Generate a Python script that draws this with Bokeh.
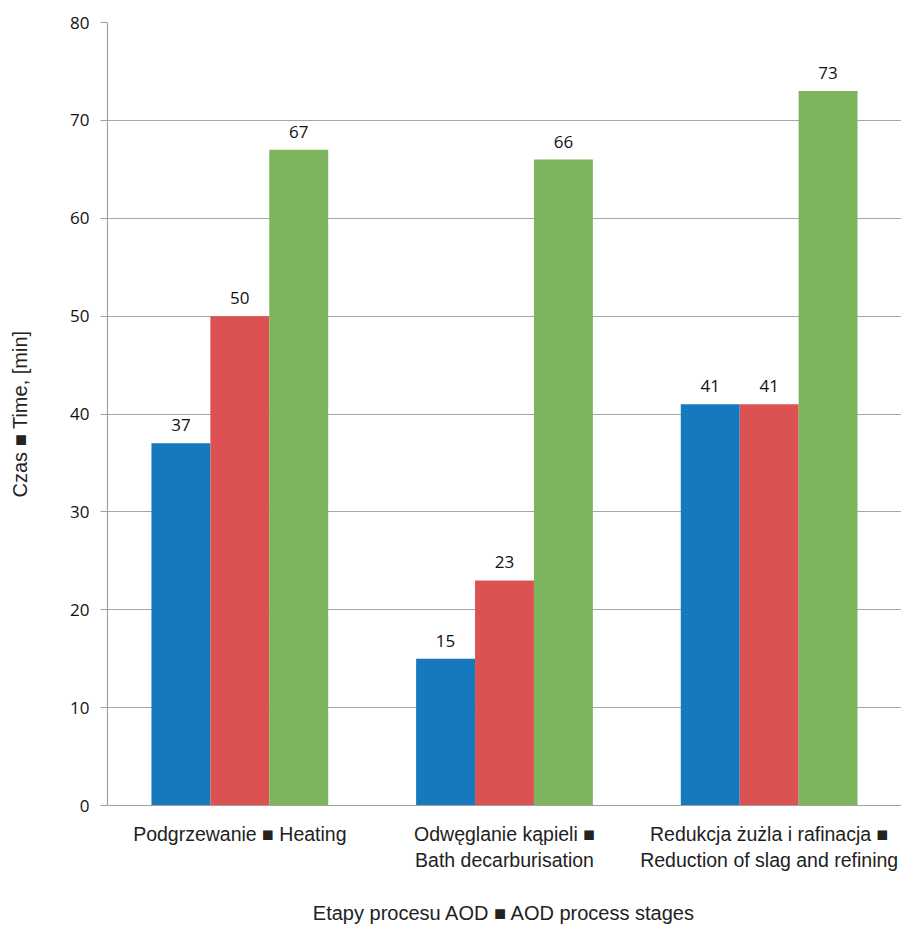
from bokeh.plotting import figure
from bokeh.models import ColumnDataSource, LabelSet, FixedTicker, Range1d
from bokeh.core.properties import value
from bokeh.embed import file_html
from bokeh.resources import INLINE

categories = ["Podgrzewanie \u25a0 Heating",
              "Odw\u0119glanie k\u0105pieli \u25a0\nBath decarburisation",
              "Redukcja \u017cu\u017cla i rafinacja \u25a0\nReduction of slag and refining"]
series_a = [37, 15, 41]
series_b = [50, 23, 41]
series_c = [67, 66, 73]
colors = ["#1779bd", "#dc5252", "#7cb55c"]
y_ticks = [0, 10, 20, 30, 40, 50, 60, 70, 80]

p = figure(width=901, height=926, output_backend="svg", toolbar_location=None,
           x_range=Range1d(0, 3), y_range=Range1d(0, 80),
           min_border_left=107, min_border_right=0, min_border_top=22, min_border_bottom=119)
p.outline_line_color = None
p.background_fill_color = "white"

bw = 0.2226
offsets = [-bw, 0, bw]
for s, vals in enumerate([series_a, series_b, series_c]):
    xs = [i + 0.5 + offsets[s] for i in range(len(categories))]
    src = ColumnDataSource(dict(x=xs, top=vals, txt=[str(v) for v in vals]))
    p.vbar(x="x", top="top", bottom=0, width=bw, source=src, fill_color=colors[s], line_color=None)
    p.add_layout(LabelSet(x="x", y="top", text="txt", source=src, y_offset=12,
                          text_align="center", text_baseline="bottom",
                          text_font=value("Open Sans"), text_font_size="17px", text_color="#111111"))

p.xgrid.visible = False
p.ygrid.grid_line_color = "#a6a6a6"
p.ygrid.grid_line_width = 1.2
p.ygrid.ticker = FixedTicker(ticks=y_ticks)

ya = p.yaxis[0]
ya.ticker = FixedTicker(ticks=y_ticks)
ya.axis_line_color = "#a0a0a0"
ya.axis_line_width = 1.2
ya.major_tick_line_color = "#a0a0a0"
ya.major_tick_out = 7
ya.major_tick_in = 0
ya.minor_tick_line_color = None
ya.major_label_text_font = "Open Sans"
ya.major_label_text_font_size = "17px"
ya.major_label_text_color = "#111111"
ya.major_label_standoff = 11
ya.axis_label = "Czas \u25a0 Time, [min]"
ya.axis_label_text_font = "Liberation Sans"
ya.axis_label_text_font_style = "normal"
ya.axis_label_text_font_size = "20px"
ya.axis_label_text_color = "#222222"
ya.axis_label_standoff = 36

xa = p.xaxis[0]
xa.ticker = FixedTicker(ticks=[0.5, 1.5, 2.5])
xa.major_label_overrides = {0.5: categories[0], 1.5: categories[1], 2.5: categories[2]}
xa.axis_line_color = "#a0a0a0"
xa.axis_line_width = 1.2
xa.major_tick_line_color = None
xa.minor_tick_line_color = None
xa.major_label_text_font = "Liberation Sans"
xa.major_label_text_font_size = "19.5px"
xa.major_label_text_color = "#222222"
xa.major_label_standoff = 11
xa.axis_label = "Etapy procesu AOD \u25a0 AOD process stages"
xa.axis_label_text_font = "Liberation Sans"
xa.axis_label_text_font_style = "normal"
xa.axis_label_text_font_size = "20px"
xa.axis_label_text_color = "#222222"
xa.axis_label_standoff = 28

open("out.html", "w").write(file_html(p, INLINE))
